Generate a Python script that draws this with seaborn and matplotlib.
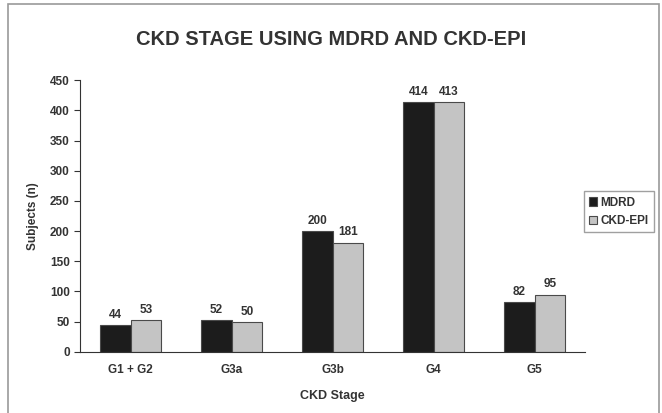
import numpy as np
import pandas as pd
import matplotlib
matplotlib.use("Agg")
import matplotlib.pyplot as plt
import seaborn as sns
from matplotlib.patches import Rectangle

stages = ["G1 + G2", "G3a", "G3b", "G4", "G5"]
mdrd = [44, 52, 200, 414, 82]
ckd_epi = [53, 50, 181, 413, 95]
methods = ["MDRD", "CKD-EPI"]
yticks = [0, 50, 100, 150, 200, 250, 300, 350, 400, 450]

df = pd.DataFrame({
    "Stage": stages * 2,
    "Subjects": mdrd + ckd_epi,
    "Method": [methods[0]] * len(stages) + [methods[1]] * len(stages),
})

sns.set_style("white")
plt.rcParams["font.family"] = ["Liberation Sans", "DejaVu Sans"]

fig = plt.figure(figsize=(6.62, 4.13), dpi=100)
ax = fig.add_axes([0.121, 0.148, 0.763, 0.658])

# outer chart frame
fig.patches.append(Rectangle((8 / 662, -0.05), 651 / 662, 1.05 - 4 / 413,
                             transform=fig.transFigure, fill=False,
                             edgecolor="#9a9a9a", linewidth=1.2))

sns.barplot(data=df, x="Stage", y="Subjects", hue="Method", ax=ax,
            palette=["#1c1c1c", "#c4c4c4"], width=0.6, saturation=1,
            edgecolor="#4a4a4a", linewidth=0.8)

for c in ax.containers:
    ax.bar_label(c, padding=3, fontsize=8.5, fontweight="bold", color="#333333")

ax.set_ylim(0, 450)
ax.set_yticks(yticks)
ax.set_xlim(-0.5, 4.5)
ax.set_xticks(np.arange(-0.5, 5.0, 1.0), minor=True)
ax.tick_params(axis="x", which="major", length=0, pad=9)
ax.tick_params(axis="x", which="minor", length=4, direction="out", color="#333333")
ax.tick_params(axis="y", length=4, direction="out", color="#333333", left=True)
for lab in ax.get_xticklabels() + ax.get_yticklabels():
    lab.set_fontsize(8.5)
    lab.set_fontweight("bold")
    lab.set_color("#333333")

sns.despine(ax=ax)
ax.spines["left"].set_color("#333333")
ax.spines["bottom"].set_color("#333333")

ax.set_xlabel("CKD Stage", fontsize=9, fontweight="bold", color="#333333", labelpad=10)
ax.set_ylabel("Subjects (n)", fontsize=8.5, fontweight="bold", color="#333333", labelpad=8)

fig.text(0.5, 0.905, "CKD STAGE USING MDRD AND CKD-EPI", ha="center", va="center",
         fontsize=14.5, fontweight="bold", color="#333333")

leg = ax.legend(loc="center left", bbox_to_anchor=(0.985, 0.515), frameon=True,
                fontsize=8.5, handlelength=0.7, handleheight=0.7, handletextpad=0.3,
                borderpad=0.45, labelspacing=0.55, fancybox=False)
leg.get_frame().set_edgecolor("#888888")
for t in leg.get_texts():
    t.set_fontweight("bold")
    t.set_color("#333333")

fig.savefig("out.png", dpi=100)
